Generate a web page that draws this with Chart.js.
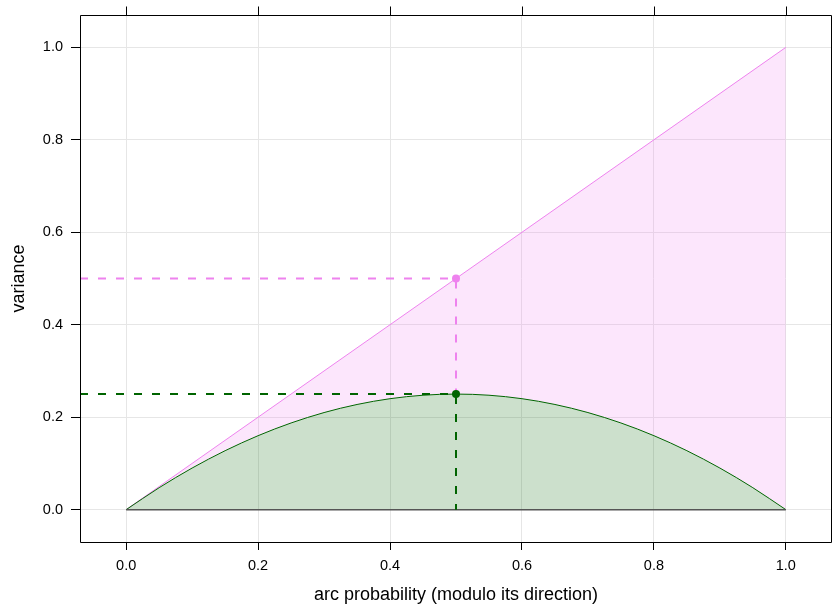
<!DOCTYPE html>
<html>
<head>
<meta charset="utf-8">
<script src="https://cdn.jsdelivr.net/npm/chart.js@4"></script>
<style>
  body { margin: 0; background: #fff; }
  canvas { display: block; }
</style>
</head>
<body>
<canvas id="varChart" width="833" height="607"></canvas>
<script>
// arc probability p and the variance
const probs = [0, 0.05, 0.1, 0.15, 0.2, 0.25, 0.3, 0.35, 0.4, 0.45, 0.5,
               0.55, 0.6, 0.65, 0.7, 0.75, 0.8, 0.85, 0.9, 0.95, 1];
const variance = [0, 0.0475, 0.09, 0.1275, 0.16, 0.1875, 0.21, 0.2275, 0.24, 0.2475, 0.25,
                  0.2475, 0.24, 0.2275, 0.21, 0.1875, 0.16, 0.1275, 0.09, 0.0475, 0];

// upper bound line (pink)
const boundX = [0, 1];
const boundY = [0, 1];

// marked point at p = 0.5
const markX = 0.5;
const markBound = 0.5;
const markVar = 0.25;

// axis range (lattice style padding)
const axisMin = -0.07;
const axisMax = 1.07;

const pink = '#EE82EE';
const green = '#006400';

const xy = (xs, ys) => xs.map((x, i) => ({ x: x, y: ys[i] }));

// top tick marks + full frame, like lattice
const framePlugin = {
  id: 'frame',
  afterDraw(chart) {
    const { ctx, chartArea: a, scales } = chart;
    const l = Math.round(a.left) + 0.5, t = Math.round(a.top) + 0.5;
    const r = Math.round(a.right) - 0.5, b = Math.round(a.bottom) + 0.5;
    ctx.save();
    ctx.strokeStyle = '#000';
    ctx.lineWidth = 1;
    ctx.beginPath();
    ctx.moveTo(l, b);
    ctx.lineTo(l, t);
    ctx.lineTo(r, t);
    ctx.lineTo(r, b);
    ctx.lineTo(l, b);
    scales.x.ticks.forEach(tk => {
      const px = Math.round(scales.x.getPixelForValue(tk.value)) + 0.5;
      ctx.moveTo(px, t);
      ctx.lineTo(px, t - 9);
    });
    ctx.stroke();
    ctx.restore();
  }
};

const fmt = v => Number(v).toFixed(1);

new Chart(document.getElementById('varChart'), {
  type: 'line',
  data: {
    datasets: [
      { // 0: pink bound, filled down to the variance curve
        data: xy(boundX, boundY),
        borderColor: pink, borderWidth: 1,
        backgroundColor: 'rgba(238,130,238,0.2)',
        fill: 1, pointRadius: 0, tension: 0, order: 6
      },
      { // 1: variance curve
        data: xy(probs, variance),
        borderColor: green, borderWidth: 1,
        backgroundColor: 'rgba(0,100,0,0.2)',
        fill: 'origin', pointRadius: 0, cubicInterpolationMode: 'monotone', order: 5
      },
      { // 2: baseline
        data: xy([0, 1], [0, 0]),
        borderColor: '#555', borderWidth: 1.5,
        fill: false, pointRadius: 0, order: 4
      },
      { // 3: pink guide
        data: xy([axisMin, markX, markX], [markBound, markBound, markVar]),
        borderColor: pink, borderWidth: 2, borderDash: [8, 10],
        fill: false, pointRadius: 0, tension: 0, order: 3
      },
      { // 4: green guide
        data: xy([axisMin, markX, markX], [markVar, markVar, 0]),
        borderColor: green, borderWidth: 2, borderDash: [8, 10],
        fill: false, pointRadius: 0, tension: 0, order: 2
      },
      { // 5: pink point
        data: xy([markX], [markBound]),
        showLine: false, pointRadius: 4, pointBackgroundColor: pink,
        pointBorderWidth: 0, order: 1
      },
      { // 6: green point
        data: xy([markX], [markVar]),
        showLine: false, pointRadius: 4, pointBackgroundColor: green,
        pointBorderWidth: 0, order: 0
      }
    ]
  },
  options: {
    responsive: false,
    animation: false,
    layout: { autoPadding: false, padding: { top: 15, right: 1, left: 0, bottom: 0 } },
    plugins: { legend: { display: false }, tooltip: { enabled: false } },
    scales: {
      x: {
        type: 'linear', min: axisMin, max: axisMax,
        afterFit: s => { s.height = 65; s.paddingLeft = 0; s.paddingRight = 0; },
        ticks: {
          stepSize: 0.2, includeBounds: false, padding: 7,
          color: '#000', font: { family: 'Liberation Sans, Arial, sans-serif', size: 14.5 },
          callback: fmt
        },
        grid: { color: '#e6e6e6', tickColor: '#000', tickLength: 8 },
        border: { display: false },
        title: {
          display: true, text: 'arc probability (modulo its direction)',
          color: '#000', font: { family: 'Liberation Sans, Arial, sans-serif', size: 18 },
          padding: { top: 0, bottom: 1 }
        }
      },
      y: {
        type: 'linear', min: axisMin, max: axisMax,
        afterFit: s => { s.width = 80; s.paddingTop = 0; s.paddingBottom = 0; },
        ticks: {
          stepSize: 0.2, includeBounds: false, padding: 8,
          color: '#000', font: { family: 'Liberation Sans, Arial, sans-serif', size: 14.5 },
          callback: fmt
        },
        grid: { color: '#e6e6e6', tickColor: '#000', tickLength: 9 },
        border: { display: false },
        title: {
          display: true, text: 'variance',
          color: '#000', font: { family: 'Liberation Sans, Arial, sans-serif', size: 18 },
          padding: { top: 8, bottom: 0 }
        }
      }
    }
  },
  plugins: [framePlugin]
});
</script>
</body>
</html>
